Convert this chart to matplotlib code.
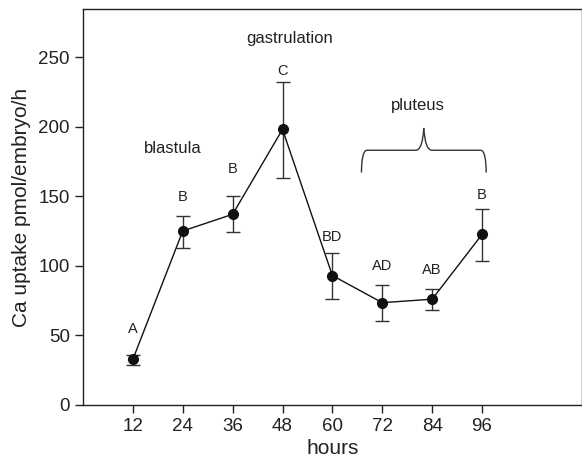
import matplotlib
matplotlib.use("Agg")
import matplotlib.pyplot as plt
from matplotlib.path import Path
from matplotlib.patches import PathPatch

plt.rcParams['font.family'] = ['Liberation Sans', 'DejaVu Sans']

hours = [12, 24, 36, 48, 60, 72, 84, 96]
uptake = [32.8, 125, 137, 198, 93, 73.5, 76, 122.5]
err_low = [29, 113, 124, 163, 76, 60.5, 68.2, 103.4]
err_high = [36, 136, 150, 232, 109, 86, 83.6, 140.6]
letters = ['A', 'B', 'B', 'C', 'BD', 'AD', 'AB', 'B']
letter_y = [54.5, 149.5, 169.5, 240, 121, 100, 97, 151]

fig = plt.figure(figsize=(5.82, 4.61), dpi=100)
ax = fig.add_axes([0.1426, 0.1215, 0.857, 0.859])

lower = [u - l for u, l in zip(uptake, err_low)]
upper = [h - u for u, h in zip(uptake, err_high)]
ax.errorbar(hours, uptake, yerr=[lower, upper], fmt='o-', color='#111111',
            ecolor='#333333', elinewidth=1.0, capsize=5, capthick=1.0,
            markersize=7, linewidth=1.0)

for x, y, t in zip(hours, letter_y, letters):
    ax.text(x, y, t, ha='center', va='center', fontsize=10.5, color='#222222')

ax.text(21.5, 184, 'blastula', ha='center', va='center', fontsize=12, color='#222222')
ax.text(49.8, 263, 'gastrulation', ha='center', va='center', fontsize=12, color='#222222')
ax.text(80.5, 215, 'pluteus', ha='center', va='center', fontsize=12, color='#222222')

# curly brace over pluteus
x0, x1 = 67, 97
xm = (x0 + x1) / 2
yb, ya, yt = 167, 183, 199
p1 = Path([(x0, yb), (x0, ya - 1), (x0 + 1.2, ya), (x0 + 3, ya),
           (xm - 2, ya), (xm - 0.3, ya), (xm, yt)],
          [Path.MOVETO, Path.CURVE3, Path.CURVE3, Path.LINETO,
           Path.LINETO, Path.CURVE3, Path.CURVE3])
p2 = Path([(x1, yb), (x1, ya - 1), (x1 - 1.2, ya), (x1 - 3, ya),
           (xm + 2, ya), (xm + 0.3, ya), (xm, yt)],
          [Path.MOVETO, Path.CURVE3, Path.CURVE3, Path.LINETO,
           Path.LINETO, Path.CURVE3, Path.CURVE3])
for p in (p1, p2):
    ax.add_patch(PathPatch(p, fill=False, edgecolor='#333333', linewidth=1.0))

ax.set_xlim(0, 120)
ax.set_ylim(0, 284.5)
ax.set_xticks(hours)
ax.set_yticks([0, 50, 100, 150, 200, 250])
ax.tick_params(direction='out', length=6, width=1, labelsize=13.5, colors='#222222')
for s in ax.spines.values():
    s.set_color('#222222')
    s.set_linewidth(1.0)
ax.set_xlabel('hours', fontsize=15, color='#222222', labelpad=3)
ax.set_ylabel('Ca uptake pmol/embryo/h', fontsize=15, color='#222222', labelpad=5)

fig.savefig('out.png', dpi=100)
